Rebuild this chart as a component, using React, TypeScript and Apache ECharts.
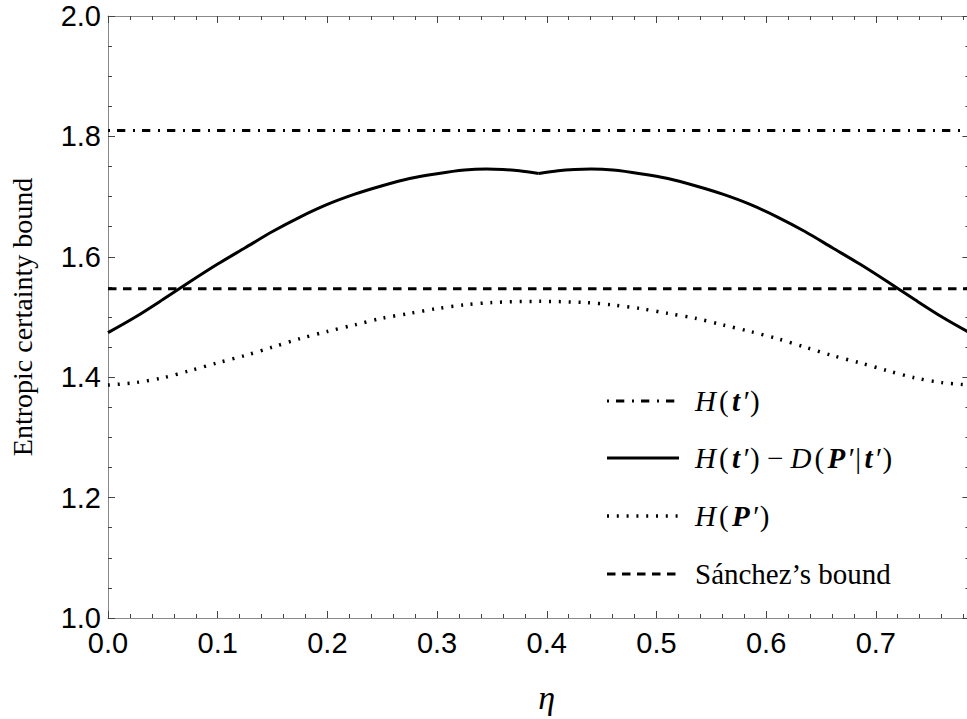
import React, { useEffect, useRef } from "react";
import * as echarts from "echarts";

// eta values (x) for H(t') - D(P'|t'): left branch up to the cusp, right branch after it
const etaLeft = [
  0, 0.025, 0.05, 0.075, 0.1, 0.125, 0.15, 0.175, 0.2, 0.225, 0.25, 0.275, 0.3,
  0.325, 0.345, 0.36, 0.375, 0.3927,
];
const boundHDLeft = [
  1.474, 1.5, 1.529, 1.559, 1.588, 1.615, 1.642, 1.666, 1.687, 1.704, 1.718,
  1.73, 1.738, 1.744, 1.7457, 1.745, 1.743, 1.7385,
];
const etaRight = [
  0.3927, 0.4104, 0.4254, 0.4404, 0.4604, 0.4854, 0.5104, 0.5354, 0.5604,
  0.5854, 0.6104, 0.6354, 0.6604, 0.6854, 0.7104, 0.7354, 0.7604, 0.7854,
];
const boundHDRight = [
  1.7385, 1.743, 1.745, 1.7457, 1.744, 1.738, 1.73, 1.718, 1.704, 1.687, 1.666,
  1.642, 1.615, 1.588, 1.559, 1.529, 1.5, 1.474,
];
// eta values for H(P')
const etaP = [
  0, 0.025, 0.05, 0.075, 0.1, 0.125, 0.15, 0.175, 0.2, 0.225, 0.25, 0.275, 0.3,
  0.325, 0.35, 0.3927, 0.4354, 0.4604, 0.4854, 0.5104, 0.5354, 0.5604, 0.5854,
  0.6104, 0.6354, 0.6604, 0.6854, 0.7104, 0.7354, 0.7604, 0.7854,
];
const boundHP = [
  1.387, 1.391, 1.399, 1.411, 1.424, 1.436, 1.45, 1.464, 1.476, 1.487, 1.498,
  1.506, 1.514, 1.52, 1.524, 1.526, 1.524, 1.52, 1.514, 1.506, 1.498, 1.487,
  1.476, 1.464, 1.45, 1.436, 1.424, 1.411, 1.399, 1.391, 1.387,
];
// constant bounds
const etaEnds = [0, 0.7854];
const boundHt = [1.81, 1.81];
const boundSanchez = [1.547, 1.547];

const yTicks = [1.0, 1.2, 1.4, 1.6, 1.8, 2.0];
const legendLabels = [
  "{i|H}{r|(}{b|t}{r|′)}",
  "{i|H}{r|(}{b|t}{r|′) − }{i|D}{r|(}{b|P}{r|′|}{b|t}{r|′)}",
  "{i|H}{r|(}{b|P}{r|′)}",
  "{r|Sánchez’s bound}",
];

const pairs = (xs: number[], ys: number[]) => xs.map((x, i) => [x, ys[i]]);

const DASHDOT = [2, 7, 8.3, 7.7];
const DOTTED = [2, 7.8];
const DASHED = [8.5, 6.5];

export default function App() {
  const ref = useRef<HTMLDivElement>(null);
  useEffect(() => {
    if (!ref.current) return;
    const chart = echarts.init(ref.current, null, { renderer: "svg" });
    const axisLine = { show: true, onZero: false, lineStyle: { color: "#8a8a8a", width: 1 } };
    const tickColor = "#444";
    const serif = "'Liberation Serif', 'DejaVu Serif', serif";
    const fs = 29;
    const rich = {
      i: { fontFamily: serif, fontStyle: "italic", fontSize: fs, color: "#000", padding: [0, 3, 0, 0] },
      r: { fontFamily: serif, fontSize: fs, color: "#000" },
      b: { fontFamily: serif, fontStyle: "italic", fontWeight: "bold", fontSize: fs, color: "#000", padding: [0, 3.5, 0, 3.5] },
    };
    const legendY = [401, 458, 516, 574];
    const legendDash: any[] = [DASHDOT, null, DOTTED, DASHED];
    const legendW = [3, 3, 3.5, 3];
    const graphics: any[] = [];
    legendLabels.forEach((lab, k) => {
      graphics.push({
        type: "line",
        shape: { x1: 607, y1: legendY[k], x2: 679, y2: legendY[k] },
        style: {
          stroke: "#000",
          lineWidth: legendW[k],
          lineDash: legendDash[k] || undefined,
          lineCap: "butt",
        },
      });
      graphics.push({
        type: "text",
        x: 695,
        y: legendY[k],
        style: { text: lab, rich, verticalAlign: "middle", align: "left", fill: "#000" },
      });
    });

    const curve = (name: string, xs: number[], ys: number[]) => ({
      type: "line",
      name,
      data: pairs(xs, ys),
      symbol: "none",
      smooth: 0.3,
      lineStyle: { color: "#000", width: 3, type: "solid" },
    });

    chart.setOption({
      animation: false,
      backgroundColor: "#fff",
      grid: { left: 105.5, top: 16, width: 880, height: 606.5, containLabel: false },
      xAxis: [
        {
          type: "value",
          min: 0,
          max: 0.8,
          interval: 0.1,
          name: "η",
          nameLocation: "middle",
          nameGap: 62,
          nameTextStyle: { fontFamily: serif, fontStyle: "italic", fontSize: 34, color: "#000" },
          axisLine,
          axisTick: { show: true, inside: true, length: 7, lineStyle: { color: tickColor } },
          minorTick: { show: true, splitNumber: 5, length: 4, lineStyle: { color: tickColor } },
          splitLine: { show: false },
          axisLabel: {
            fontFamily: "'Liberation Sans', Arial, sans-serif",
            fontSize: 29,
            color: "#000",
            margin: 10,
            showMaxLabel: false,
            formatter: (v: number) => v.toFixed(1),
          },
        },
        {
          type: "value",
          position: "top",
          min: 0,
          max: 0.8,
          interval: 0.1,
          axisLine,
          axisTick: { show: true, inside: true, length: 7, lineStyle: { color: tickColor } },
          minorTick: { show: true, splitNumber: 5, length: 4, lineStyle: { color: tickColor } },
          splitLine: { show: false },
          axisLabel: { show: false },
        },
      ],
      yAxis: [
        {
          type: "value",
          min: yTicks[0],
          max: yTicks[yTicks.length - 1],
          interval: 0.2,
          name: "Entropic certainty bound",
          nameLocation: "middle",
          nameGap: 72,
          nameTextStyle: { fontFamily: serif, fontSize: 28, color: "#000" },
          axisLine,
          axisTick: { show: true, inside: true, length: 7, lineStyle: { color: tickColor } },
          minorTick: { show: true, splitNumber: 4, length: 4, lineStyle: { color: tickColor } },
          splitLine: { show: false },
          axisLabel: {
            fontFamily: "'Liberation Sans', Arial, sans-serif",
            fontSize: 29,
            color: "#000",
            margin: 7,
            formatter: (v: number) => v.toFixed(1),
          },
        },
        {
          type: "value",
          position: "right",
          offset: -16.1,
          min: yTicks[0],
          max: yTicks[yTicks.length - 1],
          interval: 0.2,
          axisLine,
          axisTick: { show: true, inside: true, length: 7, lineStyle: { color: tickColor } },
          minorTick: { show: true, splitNumber: 4, length: 4, lineStyle: { color: tickColor } },
          splitLine: { show: false },
          axisLabel: { show: false },
        },
      ],
      series: [
        {
          type: "line",
          name: "H(t')",
          data: pairs(etaEnds, boundHt),
          symbol: "none",
          lineStyle: { color: "#000", width: 3, type: DASHDOT, cap: "butt" },
        },
        curve("H(t') - D(P'|t')", etaLeft, boundHDLeft),
        curve("H(t') - D(P'|t') ", etaRight, boundHDRight),
        {
          type: "line",
          name: "H(P')",
          data: pairs(etaP, boundHP),
          symbol: "none",
          smooth: 0.3,
          lineStyle: { color: "#000", width: 3.5, type: DOTTED, cap: "butt" },
        },
        {
          type: "line",
          name: "Sánchez's bound",
          data: pairs(etaEnds, boundSanchez),
          symbol: "none",
          lineStyle: { color: "#000", width: 3, type: DASHED, cap: "butt" },
        },
      ],
      graphic: graphics,
    });
    return () => chart.dispose();
  }, []);
  return (
    <div
      ref={ref}
      style={{ position: "fixed", left: 0, top: 0, width: 990, height: 719, background: "#fff" }}
    />
  );
}
